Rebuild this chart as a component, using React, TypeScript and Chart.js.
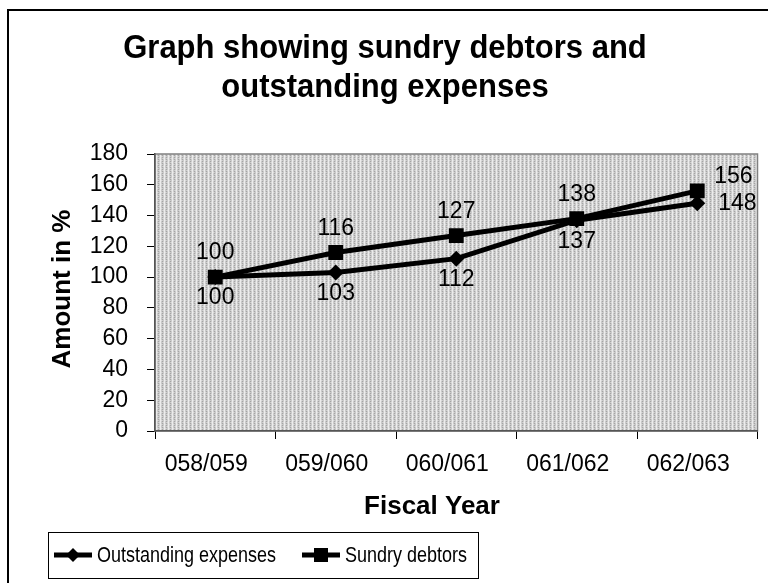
import React, { useEffect, useRef } from "react";
import { Chart, registerables } from "chart.js";

Chart.register(...registerables);

const categories = ["058/059", "059/060", "060/061", "061/062", "062/063"];
const outstandingExpenses = [100, 103, 112, 137, 148];
const sundryDebtors = [100, 116, 127, 138, 156];
const seriesNames = ["Outstanding expenses", "Sundry debtors"];
const titleLines = ["Graph showing sundry debtors and", "outstanding expenses"];
const yTitle = "Amount in %";
const xTitle = "Fiscal Year";

const FONT = "'Liberation Sans', Arial, sans-serif";

// label placement per dataset and point (style, not data)
const labelPlacement: Record<number, string[]> = {
  0: ["below", "below", "below", "below", "right"],
  1: ["above", "above", "above", "above", "rightAbove"],
};

function makePattern(ctx: CanvasRenderingContext2D) {
  const c = document.createElement("canvas");
  c.width = 4;
  c.height = 4;
  const p = c.getContext("2d")!;
  p.fillStyle = "#cacaca";
  p.fillRect(0, 0, 4, 4);
  p.fillStyle = "#ececec";
  p.fillRect(0, 0, 1, 4);
  p.fillStyle = "#a4a4a4";
  p.fillRect(2, 1, 1, 1);
  p.fillRect(2, 3, 1, 1);
  p.fillStyle = "#dcdcdc";
  p.fillRect(1, 0, 1, 1);
  p.fillRect(3, 2, 1, 1);
  return ctx.createPattern(c, "repeat");
}

function stretchedText(
  ctx: CanvasRenderingContext2D,
  txt: string,
  x: number,
  y: number,
  sy: number
) {
  ctx.save();
  ctx.translate(x, y);
  ctx.scale(1, sy);
  ctx.fillText(txt, 0, 0);
  ctx.restore();
}

const decorPlugin = {
  id: "decor",
  beforeDraw(chart: any) {
    const ctx = chart.ctx as CanvasRenderingContext2D;
    const a = chart.chartArea;
    ctx.save();
    ctx.fillStyle = "#ffffff";
    ctx.fillRect(0, 0, chart.width, chart.height);
    // outer border
    ctx.strokeStyle = "#000";
    ctx.lineWidth = 2;
    ctx.strokeRect(8, 10, 800, 620);
    // plot area
    const pat = makePattern(ctx);
    ctx.fillStyle = pat || "#c8c8c8";
    ctx.fillRect(a.left, a.top, a.right - a.left, a.bottom - a.top);
    ctx.strokeStyle = "#808080";
    ctx.lineWidth = 1.5;
    ctx.strokeRect(a.left, a.top, a.right - a.left, a.bottom - a.top);
    // title
    ctx.fillStyle = "#000";
    ctx.font = `bold 31px ${FONT}`;
    ctx.textAlign = "center";
    ctx.textBaseline = "middle";
    stretchedText(ctx, titleLines[0], 385, 49, 1.05);
    stretchedText(ctx, titleLines[1], 385, 88, 1.05);
    // axis titles
    ctx.font = `bold 26px ${FONT}`;
    ctx.fillText(xTitle, 432, 507);
    ctx.save();
    ctx.translate(63, 289);
    ctx.rotate(-Math.PI / 2);
    ctx.fillText(yTitle, 0, 0);
    ctx.restore();
    // legend
    ctx.strokeStyle = "#000";
    ctx.lineWidth = 1;
    ctx.strokeRect(48.5, 532.5, 430, 46);
    const ly = 555;
    const items = [
      { x: 54, shape: "diamond", name: seriesNames[0] },
      { x: 302, shape: "square", name: seriesNames[1] },
    ];
    ctx.font = `18px ${FONT}`;
    ctx.textAlign = "left";
    for (const it of items) {
      ctx.lineWidth = 5;
      ctx.beginPath();
      ctx.moveTo(it.x, ly);
      ctx.lineTo(it.x + 38, ly);
      ctx.stroke();
      const cx = it.x + 19;
      ctx.fillStyle = "#000";
      ctx.beginPath();
      if (it.shape === "diamond") {
        ctx.moveTo(cx, ly - 7);
        ctx.lineTo(cx + 7, ly);
        ctx.lineTo(cx, ly + 7);
        ctx.lineTo(cx - 7, ly);
        ctx.closePath();
        ctx.fill();
      } else {
        ctx.fillRect(cx - 7, ly - 7, 14, 14);
      }
      stretchedText(ctx, it.name, it.x + 43, ly + 1, 1.25);
    }
    ctx.restore();
  },
};

const labelPlugin = {
  id: "pointLabels",
  afterDatasetsDraw(chart: any) {
    const ctx = chart.ctx as CanvasRenderingContext2D;
    ctx.save();
    ctx.font = `23px ${FONT}`;
    ctx.fillStyle = "#000";
    ctx.textBaseline = "middle";
    chart.data.datasets.forEach((ds: any, di: number) => {
      const meta = chart.getDatasetMeta(di);
      meta.data.forEach((pt: any, i: number) => {
        const place = labelPlacement[di][i];
        const txt = String(ds.data[i]);
        let x = pt.x;
        let y = pt.y;
        ctx.textAlign = "center";
        if (place === "below") y += 21;
        else if (place === "above") y -= 24;
        else if (place === "right") {
          ctx.textAlign = "left";
          x += 21;
        } else if (place === "rightAbove") {
          ctx.textAlign = "left";
          x += 17;
          y -= 14;
        }
        ctx.fillText(txt, x, y);
      });
    });
    ctx.restore();
  },
};

export default function App() {
  const ref = useRef<HTMLCanvasElement | null>(null);
  useEffect(() => {
    if (!ref.current) return;
    const chart = new Chart(ref.current, {
      type: "line",
      data: {
        labels: categories,
        datasets: [
          {
            label: seriesNames[0],
            data: outstandingExpenses,
            borderColor: "#000",
            backgroundColor: "#000",
            borderWidth: 5,
            pointStyle: "rectRot",
            pointRadius: 8,
            pointBorderWidth: 0,
            tension: 0,
            order: 1,
          },
          {
            label: seriesNames[1],
            data: sundryDebtors,
            borderColor: "#000",
            backgroundColor: "#000",
            borderWidth: 5,
            pointStyle: "rect",
            pointRadius: 10.5,
            pointBorderWidth: 0,
            tension: 0,
            order: 0,
          },
        ],
      },
      options: {
        responsive: false,
        animation: false,
        events: [],
        layout: { padding: { top: 154, right: 6, left: 0, bottom: 0 } },
        plugins: {
          legend: { display: false },
          title: { display: false },
          tooltip: { enabled: false },
        },
        scales: {
          x: {
            offset: true,
            grid: {
              offset: true,
              drawOnChartArea: false,
              drawTicks: true,
              tickLength: 8,
              color: "#000",
            },
            border: { display: true, color: "#555", width: 1.5 },
            ticks: {
              color: "#000",
              font: { family: FONT, size: 23 },
              padding: 12,
              labelOffset: -9,
              maxRotation: 0,
            },
            afterFit: (s: any) => {
              s.height = 152;
            },
          },
          y: {
            min: 0,
            max: 180,
            ticks: {
              stepSize: 20,
              color: "#000",
              font: { family: FONT, size: 23 },
              padding: 19,
            },
            grid: {
              drawOnChartArea: false,
              drawTicks: true,
              tickLength: 8,
              color: "#000",
            },
            border: { display: true, color: "#555", width: 1.5 },
            afterFit: (s: any) => {
              s.width = 155;
            },
          },
        },
      },
      plugins: [decorPlugin, labelPlugin],
    });
    return () => chart.destroy();
  }, []);
  return (
    <div style={{ position: "fixed", left: 0, top: 0, width: 768, height: 583 }}>
      <canvas ref={ref} width={768} height={583} style={{ display: "block" }} />
    </div>
  );
}
